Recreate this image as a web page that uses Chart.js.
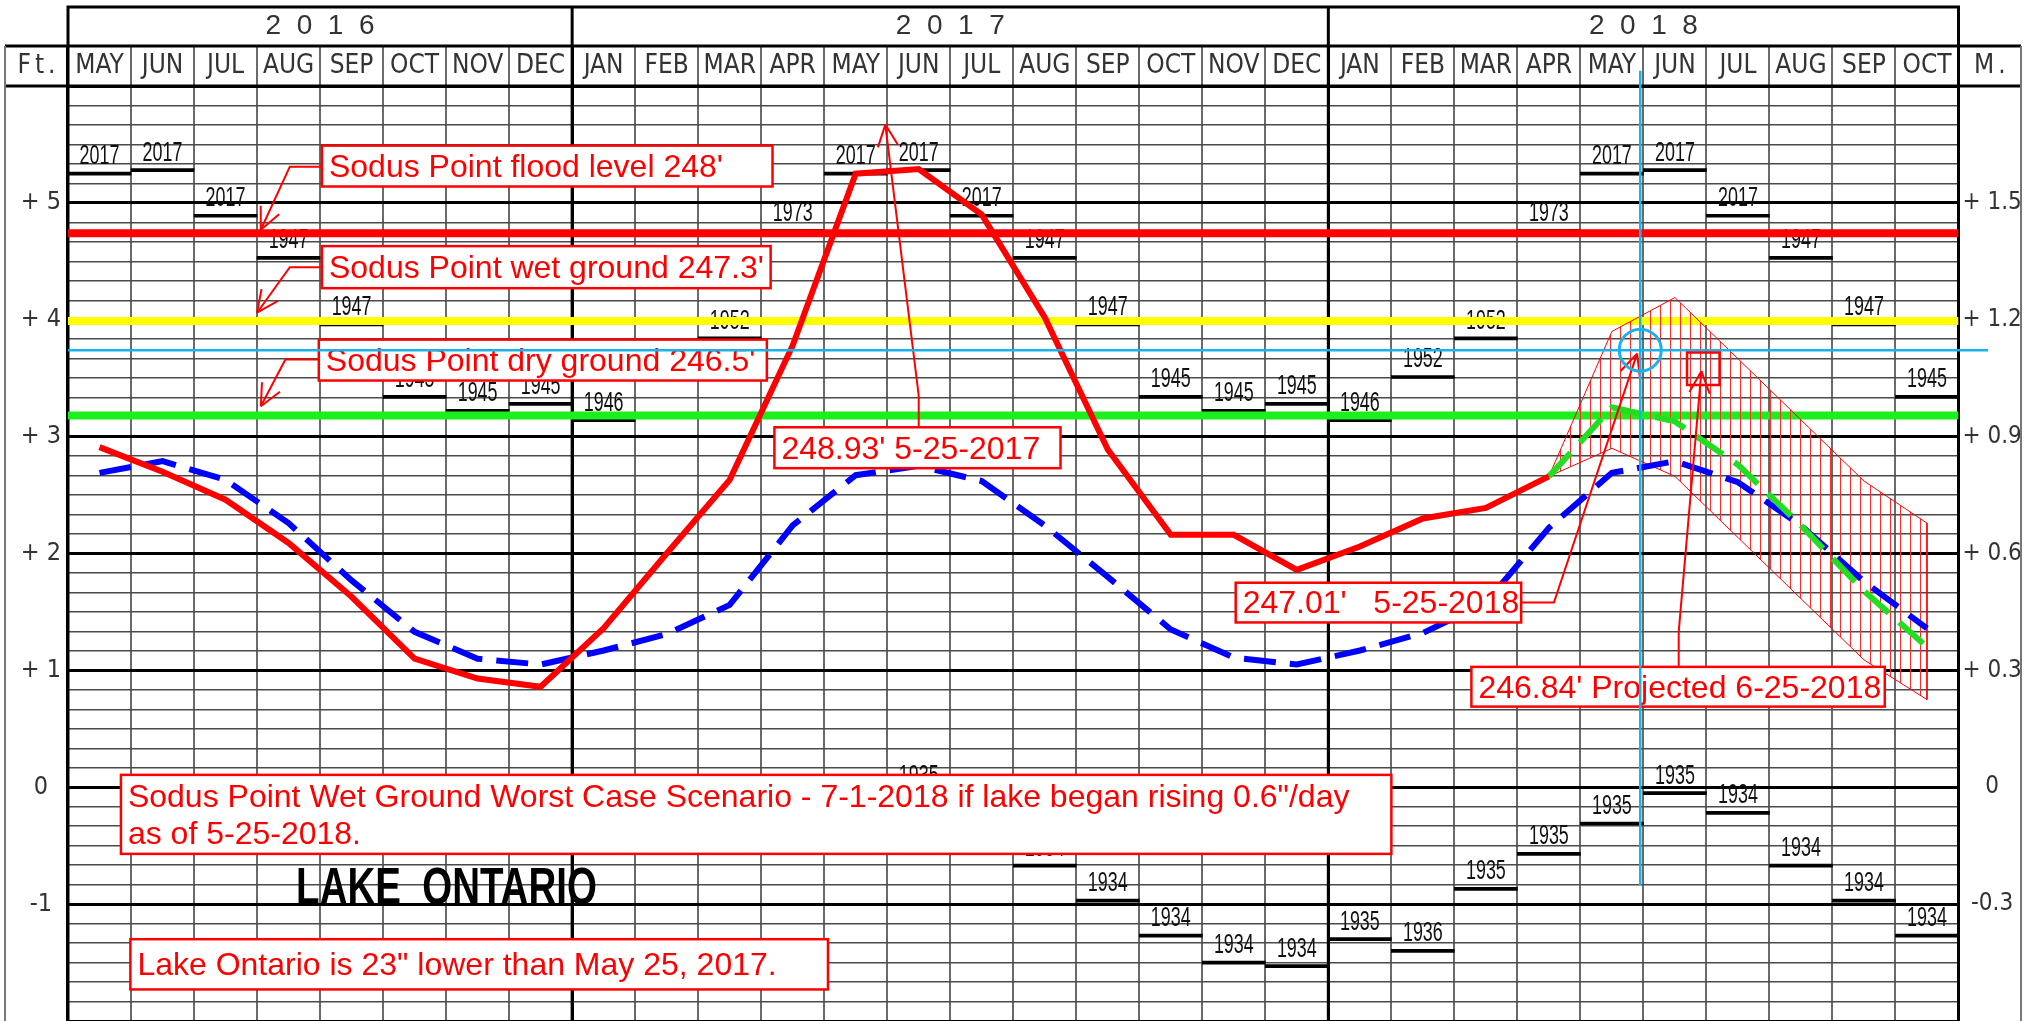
<!DOCTYPE html>
<html>
<head>
<meta charset="utf-8">
<title>Lake Ontario - Sodus Point levels</title>
<script src="https://cdn.jsdelivr.net/npm/chart.js"></script>
<style>
  html, body { margin: 0; padding: 0; background: #ffffff; overflow: hidden; }
  canvas { display: block; }
</style>
</head>
<body>
<canvas id="lakeChart" width="2025" height="1021"></canvas>
<script>
// months along the top, May 2016 .. Oct 2018
const months = ['MAY', 'JUN', 'JUL', 'AUG', 'SEP', 'OCT', 'NOV', 'DEC',
  'JAN', 'FEB', 'MAR', 'APR', 'MAY', 'JUN', 'JUL', 'AUG', 'SEP', 'OCT', 'NOV', 'DEC',
  'JAN', 'FEB', 'MAR', 'APR', 'MAY', 'JUN', 'JUL', 'AUG', 'SEP', 'OCT'];
const years = ['2016', '2017', '2018'];
const yearMonths = [8, 12, 10];

// left axis (feet above chart datum) and right axis (metres)
const feetTicks = [-1, 0, 1, 2, 3, 4, 5];
const feetLabels = ['-1', '0', '+ 1', '+ 2', '+ 3', '+ 4', '+ 5'];
const metreLabels = ['-0.3', '0', '+ 0.3', '+ 0.6', '+ 0.9', '+ 1.2', '+ 1.5'];

// monthly mean level 2016-2018 (ft)
const actual = [2.91, 2.70, 2.46, 2.09, 1.63, 1.10, 0.93, 0.86,
  1.36, 2.00, 2.63, 3.78, 5.25, 5.29, 4.90, 4.02, 2.89, 2.16, 2.16, 1.86,
  2.06, 2.30, 2.39, 2.66, null, null, null, null, null, null];

// long term average (ft)
const longTermAvg = [2.69, 2.79, 2.63, 2.26, 1.77, 1.33, 1.10, 1.05,
  1.17, 1.31, 1.56, 2.24, 2.67, 2.75, 2.62, 2.24, 1.80, 1.35, 1.11, 1.05,
  1.17, 1.32, 1.58, 2.22, 2.69, 2.79, 2.61, 2.24, 1.76, 1.36];

// projected levels 2018 (ft)
const projected = [null, null, null, null, null, null, null, null,
  null, null, null, null, null, null, null, null, null, null, null, null,
  null, null, null, 2.66, 3.25, 3.13, 2.76, 2.24, 1.68, 1.20];

// projection range
const bandMonth = [23.5, 24.5, 25.5, 28.5, 29.5];
const bandHigh = [2.66, 3.90, 4.19, 2.62, 2.26];
const bandLow = [2.66, 2.90, 2.66, 1.09, 0.75];

// record monthly highs and lows (ft) with the year they were set
const recordHigh = [5.25, 5.28, 4.89, 4.53, 3.96, 3.34, 3.22, 3.28,
  3.14, 3.51, 3.84, 4.76, 5.25, 5.28, 4.89, 4.53, 3.96, 3.34, 3.22, 3.28,
  3.14, 3.51, 3.84, 4.76, 5.25, 5.28, 4.89, 4.53, 3.96, 3.34];
const recordHighYear = ['2017', '2017', '2017', '1947', '1947', '1945', '1945', '1945',
  '1946', '1952', '1952', '1973', '2017', '2017', '2017', '1947', '1947', '1945', '1945', '1945',
  '1946', '1952', '1952', '1973', '2017', '2017', '2017', '1947', '1947', '1945'];
const recordLow = [null, null, null, null, null, null, null, null,
  null, null, null, null, -0.31, -0.05, -0.22, -0.67, -0.97, -1.27, -1.50, -1.53,
  -1.30, -1.40, -0.87, -0.57, -0.31, -0.05, -0.22, -0.67, -0.97, -1.27];
const recordLowYear = ['', '', '', '', '', '', '', '',
  '', '', '', '', '1935', '1935', '1934', '1934', '1934', '1934', '1934', '1934',
  '1935', '1936', '1935', '1935', '1935', '1935', '1934', '1934', '1934', '1934'];

// Sodus Point reference levels (ft): flood 248', wet ground 247.3', dry ground 246.5'
const floodLevel = 4.74;
const wetGround = 3.99;
const dryGround = 3.18;
// 247.01' on 5-25-2018, and where that date falls on the month axis
const currentLevel = 3.74;
const currentDate = 24.95;
// 246.84' projected for 6-25-2018
const projectedMark = { x: 25.95, y: 3.58 };

// text boxes, corners and leaders given in axis units (month, ft)
const notes = [
  { text: ["Sodus Point flood level 248'"], box: [4.03, 5.49, 11.18, 5.14],
    leader: [[4.03, 5.31], [3.52, 5.31], [3.06, 4.77]] },
  { text: ["Sodus Point wet ground 247.3'"], box: [4.03, 4.63, 11.15, 4.27],
    leader: [[4.03, 4.45], [3.52, 4.45], [3.00, 4.06]] },
  { text: ["Sodus Point dry ground 246.5'"], box: [3.98, 3.83, 11.09, 3.48],
    leader: [[3.98, 3.66], [3.45, 3.66], [3.06, 3.26]] },
  { text: ["248.93' 5-25-2017"], box: [11.21, 3.08, 15.75, 2.73],
    leader: [[13.50, 3.08], [13.50, 3.35], [12.97, 5.67]] },
  { text: ["247.01'   5-25-2018"], box: [18.53, 1.75, 23.06, 1.41],
    leader: [[23.06, 1.58], [23.58, 1.58], [24.90, 3.71]] },
  { text: ["246.84' Projected 6-25-2018"], box: [22.27, 1.03, 28.83, 0.69],
    leader: [[25.56, 1.03], [25.56, 1.33], [25.92, 3.56]] },
  { text: ["Sodus Point Wet Ground Worst Case Scenario - 7-1-2018 if lake began rising 0.6\"/day",
           "as of 5-25-2018."], box: [0.84, 0.106, 21.0, -0.57] },
  { text: ["Lake Ontario is 23\" lower than May 25, 2017."], box: [0.99, -1.30, 12.06, -1.73] }
];

const RED = '#ff0000';
const CYAN = '#19b3ec';
const NARROW = "'Liberation Sans Narrow', 'DejaVu Sans Condensed', 'Liberation Sans', sans-serif";
const SANS = "'Liberation Sans', Arial, sans-serif";

const yearEdges = [0];
yearMonths.forEach(n => yearEdges.push(yearEdges[yearEdges.length - 1] + n));
const yearCenters = yearMonths.map((n, i) => yearEdges[i] + n / 2);

function isWhole(v) {
  return Math.abs(v - Math.round(v)) < 1e-6;
}

function isYearEdge(i) {
  return i === undefined || yearEdges.includes(i);
}

function monthPoints(values) {
  const pts = [];
  values.forEach((v, i) => {
    if (v !== null) pts.push({ x: i + 0.5, y: v });
  });
  return pts;
}

function recordBars(values, labels) {
  const pts = [], text = [];
  values.forEach((v, i) => {
    if (v !== null) {
      pts.push({ x: i + 0.5, y: [v - 0.013, v + 0.013] });
      text.push(labels[i]);
    }
  });
  return { pts, text };
}

// fixed axis sizes, and no extra edge padding from the tick labels
function fixSize(w, h) {
  return s => {
    if (w !== null) s.width = w;
    if (h !== null) s.height = h;
    s.paddingLeft = s.paddingRight = s.paddingTop = s.paddingBottom = 0;
  };
}

function squeeze(ctx, text, x, y, sx) {
  ctx.save();
  ctx.translate(x, y);
  ctx.scale(sx, 1);
  ctx.fillText(text, 0, 0);
  ctx.restore();
}

function arrowHead(ctx, from, tip) {
  const dx = tip[0] - from[0], dy = tip[1] - from[1];
  const len = Math.hypot(dx, dy);
  const ux = dx / len, uy = dy / len;
  const a = 25 * Math.PI / 180, l = 24;
  [a, -a].forEach(t => {
    const rx = ux * Math.cos(t) - uy * Math.sin(t);
    const ry = ux * Math.sin(t) + uy * Math.cos(t);
    ctx.beginPath();
    ctx.moveTo(tip[0], tip[1]);
    ctx.lineTo(tip[0] - rx * l, tip[1] - ry * l);
    ctx.stroke();
  });
}

const canvas = document.getElementById('lakeChart');
const ctx = canvas.getContext('2d');

// vertical hatching for the projected range
const hatchTile = document.createElement('canvas');
hatchTile.width = 10;
hatchTile.height = 10;
const ht = hatchTile.getContext('2d');
ht.strokeStyle = '#ff2a2a';
ht.lineWidth = 1;
ht.beginPath();
ht.moveTo(0.5, 0);
ht.lineTo(0.5, 10);
ht.stroke();
const hatch = ctx.createPattern(hatchTile, 'repeat');

const highs = recordBars(recordHigh, recordHighYear);
const lows = recordBars(recordLow, recordLowYear);

// header frame, year dividers, Ft. / M. captions
const framePlugin = {
  id: 'frame',
  beforeDatasetsDraw(chart) {
    const { ctx, scales } = chart;
    const x = scales.x, yr = scales.xYear, y = scales.y, y2 = scales.y2;
    const left = y.left + 5, right = y2.right - 4;
    const bottom = chart.height;
    ctx.save();
    ctx.strokeStyle = '#000';
    ctx.lineWidth = 3;
    ctx.beginPath();
    ctx.moveTo(x.left, yr.top); ctx.lineTo(x.right, yr.top);
    ctx.moveTo(left, yr.bottom); ctx.lineTo(right, yr.bottom);
    ctx.moveTo(left, x.bottom); ctx.lineTo(right, x.bottom);
    yearEdges.forEach(m => {
      const px = x.getPixelForValue(m);
      ctx.moveTo(px, yr.top - 1.5); ctx.lineTo(px, bottom);
    });
    ctx.stroke();
    ctx.strokeStyle = '#777';
    ctx.lineWidth = 2;
    ctx.beginPath();
    ctx.moveTo(left, yr.bottom); ctx.lineTo(left, bottom);
    ctx.moveTo(right, yr.bottom); ctx.lineTo(right, bottom);
    ctx.stroke();
    ctx.fillStyle = '#333';
    ctx.font = '26px ' + NARROW;
    ctx.textAlign = 'center';
    ctx.textBaseline = 'middle';
    ctx.letterSpacing = '4px';
    const midY = (x.top + x.bottom) / 2;
    ctx.fillText('Ft.', (left + x.left) / 2 + 2, midY);
    ctx.fillText('M.', (x.right + right) / 2 + 2, midY);
    ctx.restore();
  }
};

// year labels over the record high / low marks
const recordPlugin = {
  id: 'records',
  afterDatasetDraw(chart, args) {
    const ds = chart.data.datasets[args.index];
    if (!ds.yearText) return;
    const { ctx } = chart;
    ctx.save();
    ctx.fillStyle = '#111';
    ctx.font = '28px ' + SANS;
    ctx.textAlign = 'center';
    ctx.textBaseline = 'alphabetic';
    args.meta.data.forEach((el, i) => {
      const top = Math.min(el.y, el.base);
      squeeze(ctx, ds.yearText[i], el.x, top - 8, 0.64);
    });
    ctx.restore();
  }
};

// red text boxes with leaders, drawn just under the current-level markers
const notesPlugin = {
  id: 'notes',
  beforeDatasetDraw(chart, args) {
    const ds = chart.data.datasets[args.index];
    if (!ds.notesBefore) return;
    const { ctx, scales: { x, y } } = chart;
    const px = v => x.getPixelForValue(v);
    const py = v => y.getPixelForValue(v);
    ctx.save();
    ctx.font = '32px ' + SANS;
    notes.forEach(n => {
      const l = px(n.box[0]), t = py(n.box[1]), r = px(n.box[2]), b = py(n.box[3]);
      ctx.fillStyle = '#fff';
      ctx.fillRect(l, t, r - l, b - t);
      ctx.strokeStyle = RED;
      ctx.lineWidth = 2.5;
      ctx.strokeRect(l, t, r - l, b - t);
      ctx.fillStyle = RED;
      ctx.textAlign = 'left';
      ctx.textBaseline = 'middle';
      const mid = (t + b) / 2;
      n.text.forEach((s, k) => {
        ctx.fillText(s, l + 7, mid + 2 + (k - (n.text.length - 1) / 2) * 37);
      });
      if (n.leader) {
        const pts = n.leader.map(p => [px(p[0]), py(p[1])]);
        ctx.lineWidth = 2;
        ctx.beginPath();
        pts.forEach((p, k) => (k ? ctx.lineTo(p[0], p[1]) : ctx.moveTo(p[0], p[1])));
        ctx.stroke();
        arrowHead(ctx, pts[pts.length - 2], pts[pts.length - 1]);
      }
    });
    ctx.fillStyle = '#000';
    ctx.font = 'bold 52px ' + SANS;
    ctx.textAlign = 'left';
    ctx.textBaseline = 'alphabetic';
    squeeze(ctx, 'LAKE  ONTARIO', px(3.62), py(-1.0), 0.74);
    ctx.restore();
  }
};

const flat = v => [{ x: 0, y: v }, { x: 30, y: v }];

new Chart(ctx, {
  type: 'line',
  data: {
    datasets: [
      { // current level 247.01' (boxes are drawn just before this one)
        data: [{ x: 0, y: currentLevel }, { x: 30.47, y: currentLevel }],
        borderColor: CYAN, borderWidth: 2.5, pointRadius: 0, clip: false,
        order: 0, notesBefore: true
      },
      { // 5-25-2018
        data: [{ x: currentDate, y: 6.13 }, { x: currentDate, y: -0.84 }],
        borderColor: CYAN, borderWidth: 2.5, pointRadius: 0, clip: false, order: -1
      },
      {
        type: 'scatter',
        data: [{ x: currentDate, y: currentLevel }],
        pointRadius: 21, pointStyle: 'circle', borderColor: CYAN, borderWidth: 3,
        backgroundColor: 'rgba(0,0,0,0)', order: -2
      },
      {
        type: 'scatter',
        data: [projectedMark],
        pointRadius: 23, pointStyle: 'rect', borderColor: RED, borderWidth: 2.5,
        backgroundColor: 'rgba(0,0,0,0)', order: -2
      },
      { // actual levels
        data: monthPoints(actual),
        borderColor: RED, borderWidth: 6, pointRadius: 0, order: 1
      },
      { // projection
        data: monthPoints(projected),
        borderColor: '#22dd22', borderWidth: 6, borderDash: [32, 14], pointRadius: 0, order: 2
      },
      { // long term average
        data: monthPoints(longTermAvg),
        borderColor: '#0000ff', borderWidth: 6, borderDash: [32, 14], pointRadius: 0, order: 3
      },
      { // projected range, upper edge
        data: bandMonth.map((m, i) => ({ x: m, y: bandHigh[i] })),
        borderColor: RED, borderWidth: 1, pointRadius: 0, order: 4
      },
      { // projected range, lower edge, hatched
        data: bandMonth.map((m, i) => ({ x: m, y: bandLow[i] })),
        borderColor: RED, borderWidth: 1, pointRadius: 0, order: 4,
        fill: '-1', backgroundColor: hatch
      },
      {
        data: [{ x: bandMonth[bandMonth.length - 1], y: bandHigh[bandHigh.length - 1] },
               { x: bandMonth[bandMonth.length - 1], y: bandLow[bandLow.length - 1] }],
        borderColor: RED, borderWidth: 1, pointRadius: 0, order: 4
      },
      { data: flat(floodLevel), borderColor: RED, borderWidth: 8, pointRadius: 0, order: 7 },
      { data: flat(wetGround), borderColor: '#ffff00', borderWidth: 8, pointRadius: 0, order: 7 },
      { data: flat(dryGround), borderColor: '#1cf01c', borderWidth: 8, pointRadius: 0, order: 7 },
      {
        type: 'bar', data: highs.pts, yearText: highs.text,
        backgroundColor: '#000', barPercentage: 1, categoryPercentage: 1, grouped: false, order: 8
      },
      {
        type: 'bar', data: lows.pts, yearText: lows.text,
        backgroundColor: '#000', barPercentage: 1, categoryPercentage: 1, grouped: false, order: 8
      }
    ]
  },
  options: {
    responsive: false,
    animation: false,
    events: [],
    devicePixelRatio: 1,
    layout: { autoPadding: false, padding: { top: 7, left: 0, right: 0, bottom: 0 } },
    plugins: { legend: { display: false }, tooltip: { enabled: false } },
    scales: {
      x: {
        type: 'linear', position: 'top', min: 0, max: 30, weight: 0, offset: false,
        afterBuildTicks: s => { s.ticks = months.map((m, i) => ({ value: i + 0.5 })); },
        afterFit: fixSize(null, 40),
        ticks: {
          autoSkip: false, maxRotation: 0, minRotation: 0, padding: -36,
          color: '#333', font: { family: NARROW, size: 26 },
          callback: (v, i) => months[i]
        },
        grid: {
          offset: true, drawTicks: true, tickLength: 40,
          color: c => (isYearEdge(c.index) ? '#000' : '#6a6a6a'),
          lineWidth: c => (isYearEdge(c.index) ? 3 : 2),
          tickColor: c => (isYearEdge(c.index) ? '#000' : '#6a6a6a'),
          tickWidth: c => (isYearEdge(c.index) ? 3 : 2)
        },
        border: { display: false }
      },
      xYear: {
        type: 'linear', position: 'top', min: 0, max: 30, weight: 1, offset: false,
        afterBuildTicks: s => { s.ticks = yearCenters.map(v => ({ value: v })); },
        afterFit: fixSize(null, 39),
        ticks: {
          autoSkip: false, maxRotation: 0, minRotation: 0, padding: 3,
          color: '#333', font: { family: SANS, size: 28 },
          callback: (v, i) => years[i].split('').join('  ')
        },
        grid: { display: false, drawTicks: false },
        border: { display: false }
      },
      y: {
        type: 'linear', position: 'left', min: -2, max: 6,
        afterBuildTicks: s => {
          const t = [];
          for (let k = 0; k <= 48; k++) t.push({ value: -2 + k / 6 });
          s.ticks = t;
        },
        afterFit: fixSize(68, null),
        ticks: {
          autoSkip: false, crossAlign: 'center', padding: 7,
          color: '#333', font: { family: NARROW, size: 25 },
          callback: v => {
            if (!isWhole(v)) return '';
            const i = feetTicks.indexOf(Math.round(v));
            return i < 0 ? '' : feetLabels[i];
          }
        },
        grid: {
          drawTicks: false,
          color: c => (c.tick && isWhole(c.tick.value) ? '#000' : '#4a4a4a'),
          lineWidth: c => (c.tick && isWhole(c.tick.value) ? 3 : 1.5)
        },
        border: { display: false }
      },
      y2: {
        type: 'linear', position: 'right', min: -2, max: 6,
        afterBuildTicks: s => {
          s.ticks = feetTicks.map(v => ({ value: v }));
        },
        afterFit: fixSize(66.5, null),
        ticks: {
          autoSkip: false, crossAlign: 'center', padding: 4,
          color: '#333', font: { family: NARROW, size: 24 },
          callback: (v, i) => metreLabels[i]
        },
        grid: { display: false, drawTicks: false },
        border: { display: false }
      }
    }
  },
  plugins: [framePlugin, recordPlugin, notesPlugin]
});
</script>
</body>
</html>
